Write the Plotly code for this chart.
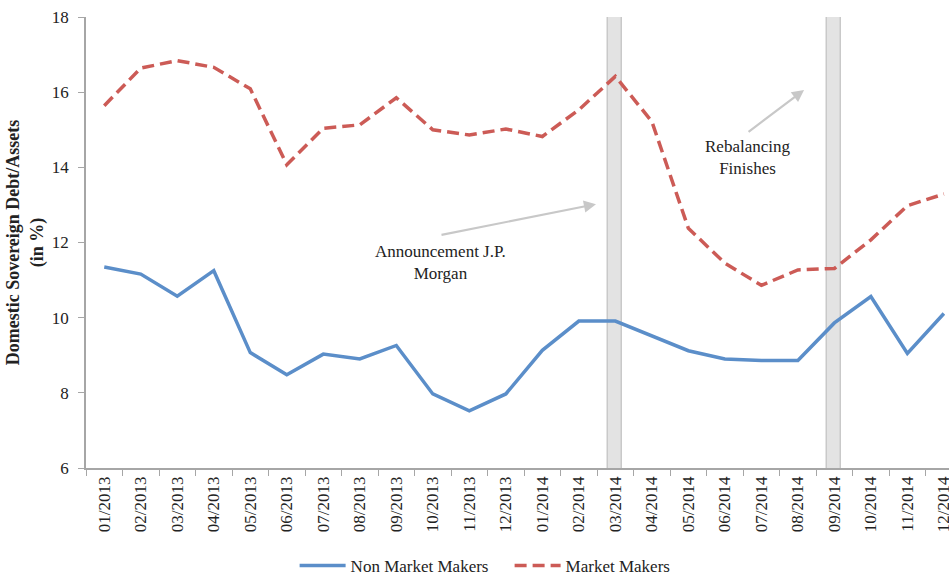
import plotly.graph_objects as go

# ── Data ──────────────────────────────────────────────────────────────────────

months = [
    "01/2013", "02/2013", "03/2013", "04/2013", "05/2013", "06/2013",
    "07/2013", "08/2013", "09/2013", "10/2013", "11/2013", "12/2013",
    "01/2014", "02/2014", "03/2014", "04/2014", "05/2014", "06/2014",
    "07/2014", "08/2014", "09/2014", "10/2014", "11/2014", "12/2014",
]
non_market_makers = [
    11.35, 11.16, 10.57, 11.25, 9.07, 8.48, 9.03, 8.90, 9.26, 7.97, 7.52, 7.97,
    9.13, 9.91, 9.91, 9.51, 9.12, 8.90, 8.86, 8.86, 9.86, 10.56, 9.05, 10.11,
]
market_makers = [
    15.64, 16.64, 16.84, 16.66, 16.09, 14.07, 15.04, 15.13, 15.85, 15.00, 14.86, 15.02,
    14.82, 15.53, 16.42, 15.22, 12.38, 11.45, 10.86, 11.27, 11.31, 12.07, 12.98, 13.29,
]
event_months = ["03/2014", "09/2014"]
event_height = [18, 18]

FONT = "Liberation Serif, Times New Roman, serif"
AXIS_GREY = "#a6a6a6"

# ── Figure ────────────────────────────────────────────────────────────────────

fig = go.Figure()

fig.add_trace(go.Bar(
    x=event_months, y=event_height, width=0.38, offset=-0.2,
    marker=dict(color="#e3e3e3", line=dict(color="#c9c9c9", width=1.5)),
    showlegend=False, hoverinfo="skip",
))
fig.add_trace(go.Scatter(
    x=months, y=non_market_makers, mode="lines", name="Non Market Makers",
    line=dict(color="#5b8ec9", width=3.5),
))
fig.add_trace(go.Scatter(
    x=months, y=market_makers, mode="lines", name="Market Makers",
    line=dict(color="#cc5b56", width=3.5, dash="12px,6px"),
))

# event notes (arrow drawn separately from the text)
fig.add_annotation(x=13.47, y=13.02, ax=-156, ay=31, text="", showarrow=True,
                   arrowhead=2, arrowsize=1.1, arrowwidth=2.2, arrowcolor="#c8c8c8")
fig.add_annotation(x=9.21, y=11.46, text="Announcement J.P.<br>Morgan", showarrow=False,
                   font=dict(family=FONT, size=17, color="#222"))
fig.add_annotation(x=19.17, y=16.06, ax=-57, ay=43, text="", showarrow=True,
                   arrowhead=2, arrowsize=1.1, arrowwidth=2.2, arrowcolor="#c8c8c8")
fig.add_annotation(x=17.62, y=14.25, text="Rebalancing<br>Finishes", showarrow=False,
                   font=dict(family=FONT, size=17, color="#222"))

fig.update_layout(
    width=949, height=573,
    margin=dict(l=86, r=0, t=17, b=105, autoexpand=False),
    plot_bgcolor="white", paper_bgcolor="white",
    font=dict(family=FONT, size=17, color="#222"),
    bargap=0,
    legend=dict(orientation="h", xref="container", yref="container",
                x=0.537, xanchor="center", y=0.0122, yanchor="middle",
                itemwidth=46, entrywidth=154,
                font=dict(family=FONT, size=17, color="#222")),
)
fig.update_xaxes(
    type="category", categoryorder="array", categoryarray=months,
    range=[-0.5, 23.14], tickangle=-90, automargin=False, ticklabeloverflow="allow",
    showline=True, linecolor=AXIS_GREY, linewidth=1.5,
    ticks="outside", tickson="boundaries", ticklen=6, tickcolor=AXIS_GREY,
    showgrid=False,
)
fig.update_yaxes(
    range=[6, 18], dtick=2, automargin=True,
    showline=True, linecolor=AXIS_GREY, linewidth=1.5,
    ticks="outside", ticklen=6, tickcolor=AXIS_GREY, ticklabelstandoff=6,
    showgrid=False, zeroline=False,
    title=dict(text="<b>Domestic Sovereign Debt/Assets<br>(in %)</b>",
               font=dict(size=18), standoff=4),
)

# drop the default page margin so the figure sits at the window's corner
fig.write_html(
    "out.html",
    config={"displayModeBar": False},
    post_script="document.body.style.margin='0';document.body.style.overflow='hidden';",
)
